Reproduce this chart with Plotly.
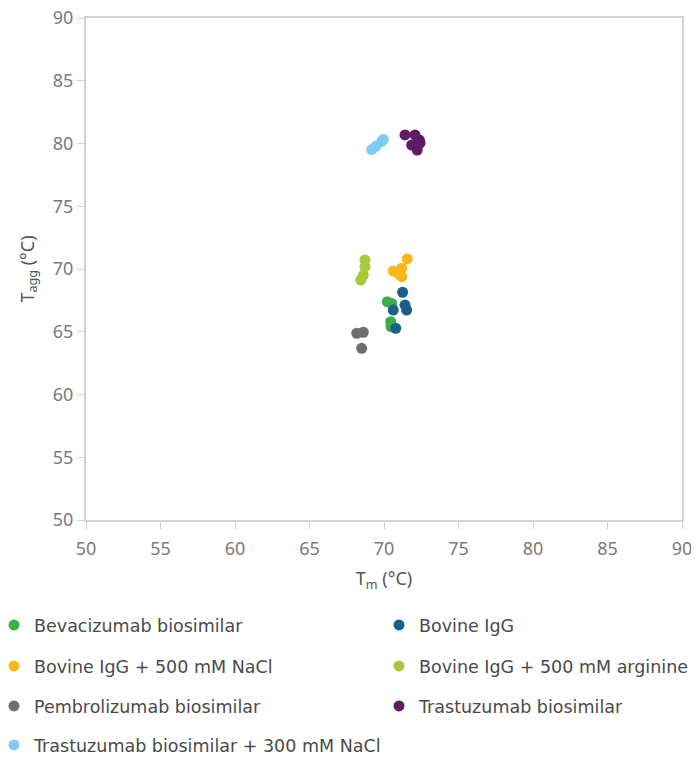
import plotly.graph_objects as go

# Data (Tm, Tagg in °C)
names = [
    "Bevacizumab biosimilar",
    "Bovine IgG",
    "Bovine IgG + 500 mM NaCl",
    "Bovine IgG + 500 mM arginine",
    "Pembrolizumab biosimilar",
    "Trastuzumab biosimilar",
    "Trastuzumab biosimilar + 300 mM NaCl",
]
colors = ["#3cae49", "#1b5f8a", "#fbb717", "#a8c93b", "#6d6e72", "#5f1c63", "#7fcdf1"]

bev_tm = [70.22, 70.52, 70.45, 70.47]
bev_tagg = [67.39, 67.26, 65.80, 65.40]

bov_tm = [71.25, 71.41, 71.52, 70.62, 70.79]
bov_tagg = [68.14, 67.13, 66.73, 66.73, 65.27]

nacl_tm = [71.56, 71.19, 70.62, 70.96, 71.19]
nacl_tagg = [70.80, 70.06, 69.84, 69.66, 69.39]

arg_tm = [68.72, 68.72, 68.61, 68.44]
arg_tagg = [70.72, 70.18, 69.52, 69.12]

pem_tm = [68.17, 68.61, 68.50]
pem_tagg = [64.88, 64.96, 63.68]

tra_tm = [71.41, 72.08, 72.37, 71.86, 72.23, 72.42]
tra_tagg = [80.68, 80.68, 80.28, 79.88, 79.48, 80.04]

tra300_tm = [69.17, 69.46, 69.85, 69.95]
tra300_tagg = [79.52, 79.78, 80.18, 80.32]

xs = [bev_tm, bov_tm, nacl_tm, arg_tm, pem_tm, tra_tm, tra300_tm]
ys = [bev_tagg, bov_tagg, nacl_tagg, arg_tagg, pem_tagg, tra_tagg, tra300_tagg]

ticks = [50, 55, 60, 65, 70, 75, 80, 85, 90]

FONT = "Noto Sans"
LEGEND_FONT = "DejaVu Sans"

# the page adds an 8 px body margin; figure is sized to fit the window
OFF = 8
W, H = 699 - OFF, 758 - OFF

# legend slots (page pixels): column left edge, row centre
leg_cols = [8, 393, 8, 393, 8, 393, 8]
leg_rows = [625, 625, 666, 666, 706, 706, 745]

fig = go.Figure()
layout_legends = {}
for i, (n, c, x, y) in enumerate(zip(names, colors, xs, ys)):
    key = "legend" if i == 0 else f"legend{i + 1}"
    fig.add_trace(go.Scatter(
        x=x, y=y, mode="markers", name=n, legend=key,
        marker=dict(color=c, size=11, line=dict(width=0)),
    ))
    layout_legends[key] = dict(
        orientation="h", xref="container", yref="container",
        xanchor="left", yanchor="middle", indentation=-14,
        x=(leg_cols[i] - OFF) / W, y=1 - (leg_rows[i] - OFF) / H,
        font=dict(family=LEGEND_FONT, size=17.5, color="#4a4a4a"),
        bgcolor="rgba(0,0,0,0)", itemclick=False, itemdoubleclick=False,
    )

axis_common = dict(
    range=[50, 90], tickvals=ticks, showgrid=False, zeroline=False,
    showline=True, linecolor="#d3d3d3", linewidth=2, mirror=True,
    ticks="outside", ticklen=7, tickcolor="#d3d3d3", tickwidth=1,
    tickfont=dict(family=FONT, size=18, color="#7a7a7a"),
    ticklabeloverflow="allow", fixedrange=True,
)

fig.update_layout(
    width=W, height=H,
    margin=dict(l=86 - OFF, r=699 - 682, t=18 - OFF, b=758 - 520, autoexpand=False),
    paper_bgcolor="white", plot_bgcolor="white",
    xaxis=dict(axis_common, ticklabelstandoff=4,
               title=dict(text="T<sub>m</sub> (°C)", standoff=14,
                          font=dict(family=FONT, size=18, color="#555555"))),
    yaxis=dict(axis_common,
               title=dict(text="T<sub>agg</sub> (°C)", standoff=14,
                          font=dict(family=FONT, size=18, color="#555555"))),
    showlegend=True,
    **layout_legends,
)

fig.write_html("out.html")
